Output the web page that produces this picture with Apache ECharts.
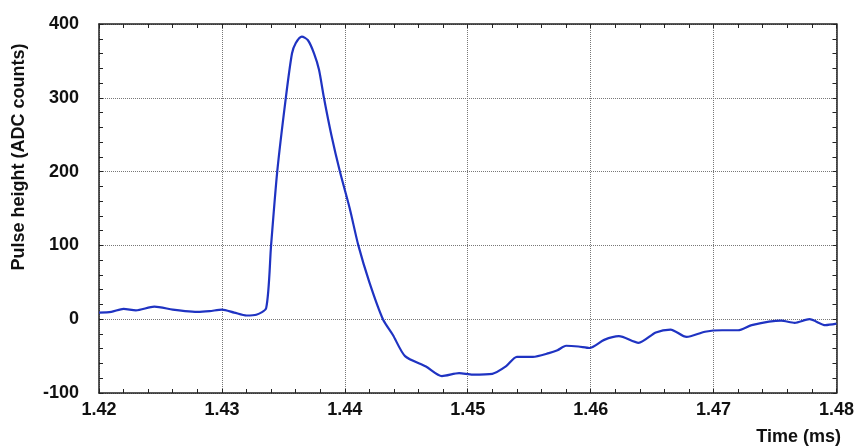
<!DOCTYPE html>
<html>
<head>
<meta charset="utf-8">
<script src="https://cdn.jsdelivr.net/npm/echarts@6/dist/echarts.min.js"></script>
<style>
html,body{margin:0;padding:0;background:#fff;}
#chart{width:857px;height:446px;}
</style>
</head>
<body>
<div id="chart"></div>
<script>
const timeMs = [1.4200,1.4210,1.4220,1.4230,1.4245,1.4260,1.4270,1.4280,1.4290,1.4300,1.4310,1.4320,1.4328,1.4336,1.4340,1.4345,1.4352,1.4357,1.4360,1.4365,1.4370,1.4375,1.4379,1.4383,1.4389,1.4396,1.4404,1.4411,1.4420,1.4431,1.4439,1.4449,1.4466,1.4479,1.4493,1.4504,1.4520,1.4531,1.4540,1.4553,1.4566,1.4573,1.4580,1.4590,1.4599,1.4611,1.4623,1.4639,1.4653,1.4665,1.4678,1.4693,1.4707,1.4720,1.4731,1.4755,1.4766,1.4778,1.4791,1.4800];
const pulse  = [9,10,14,12,17,13,11,10,11,13,9,5,6,15,100,200,300,360,374,383,378,360,338,300,250,200,150,100,50,0,-21,-50,-64,-77,-73,-75,-74,-64,-51,-51,-46,-42,-36,-37,-39,-28,-23,-32,-18,-14,-24,-17,-15,-15,-8,-2,-5,0,-8,-6];
const xTicks = [1.42,1.43,1.44,1.45,1.46,1.47,1.48];
const yTicks = [-100,0,100,200,300,400];

const font = '"Liberation Sans", Arial, sans-serif';
const chart = echarts.init(document.getElementById('chart'), null, {renderer:'canvas'});
const data = timeMs.map((t,i)=>[t,pulse[i]]);

const axisCommon = {
  axisLine:{show:true,onZero:false,lineStyle:{color:'#222',width:1.5}},
  axisTick:{show:true,inside:true,length:4,lineStyle:{color:'#222'}},
  minorTick:{show:true,splitNumber:5,length:4,lineStyle:{color:'#222'}}
};

chart.setOption({
  animation:false,
  grid:{left:99,right:19,top:24,bottom:53,containLabel:false},
  xAxis:[
    Object.assign({type:'value',min:1.42,max:1.48,interval:0.01,position:'bottom',
      axisLabel:{color:'#111',fontFamily:font,fontWeight:'bold',fontSize:18,margin:8,
        formatter:v=>v.toFixed(2)},
      splitLine:{show:true,lineStyle:{color:'#777',type:'dotted',width:1}}},axisCommon),
    Object.assign({type:'value',min:1.42,max:1.48,interval:0.01,position:'top',
      axisLabel:{show:false},splitLine:{show:false}},axisCommon)
  ],
  yAxis:[
    Object.assign({type:'value',min:-100,max:400,interval:100,position:'left',
      axisLabel:{color:'#111',fontFamily:font,fontWeight:'bold',fontSize:18,margin:20},
      splitLine:{show:true,lineStyle:{color:'#777',type:'dotted',width:1}}},axisCommon),
    Object.assign({type:'value',min:-100,max:400,interval:100,position:'right',
      axisLabel:{show:false},splitLine:{show:false}},axisCommon)
  ],
  graphic:[
    {type:'text',x:19,y:157,rotation:Math.PI/2,
      style:{text:'Pulse height (ADC counts)',font:'bold 18px '+font,fill:'#111',
        textAlign:'center',textVerticalAlign:'middle'}},
    {type:'text',x:841,y:437,
      style:{text:'Time (ms)',font:'bold 18px '+font,fill:'#111',
        textAlign:'right',textVerticalAlign:'middle'}}
  ],
  series:[{
    type:'line',xAxisIndex:0,yAxisIndex:0,data:data,showSymbol:false,smooth:0.25,
    lineStyle:{color:'#1f33c2',width:2.2}
  }]
});
</script>
</body>
</html>
